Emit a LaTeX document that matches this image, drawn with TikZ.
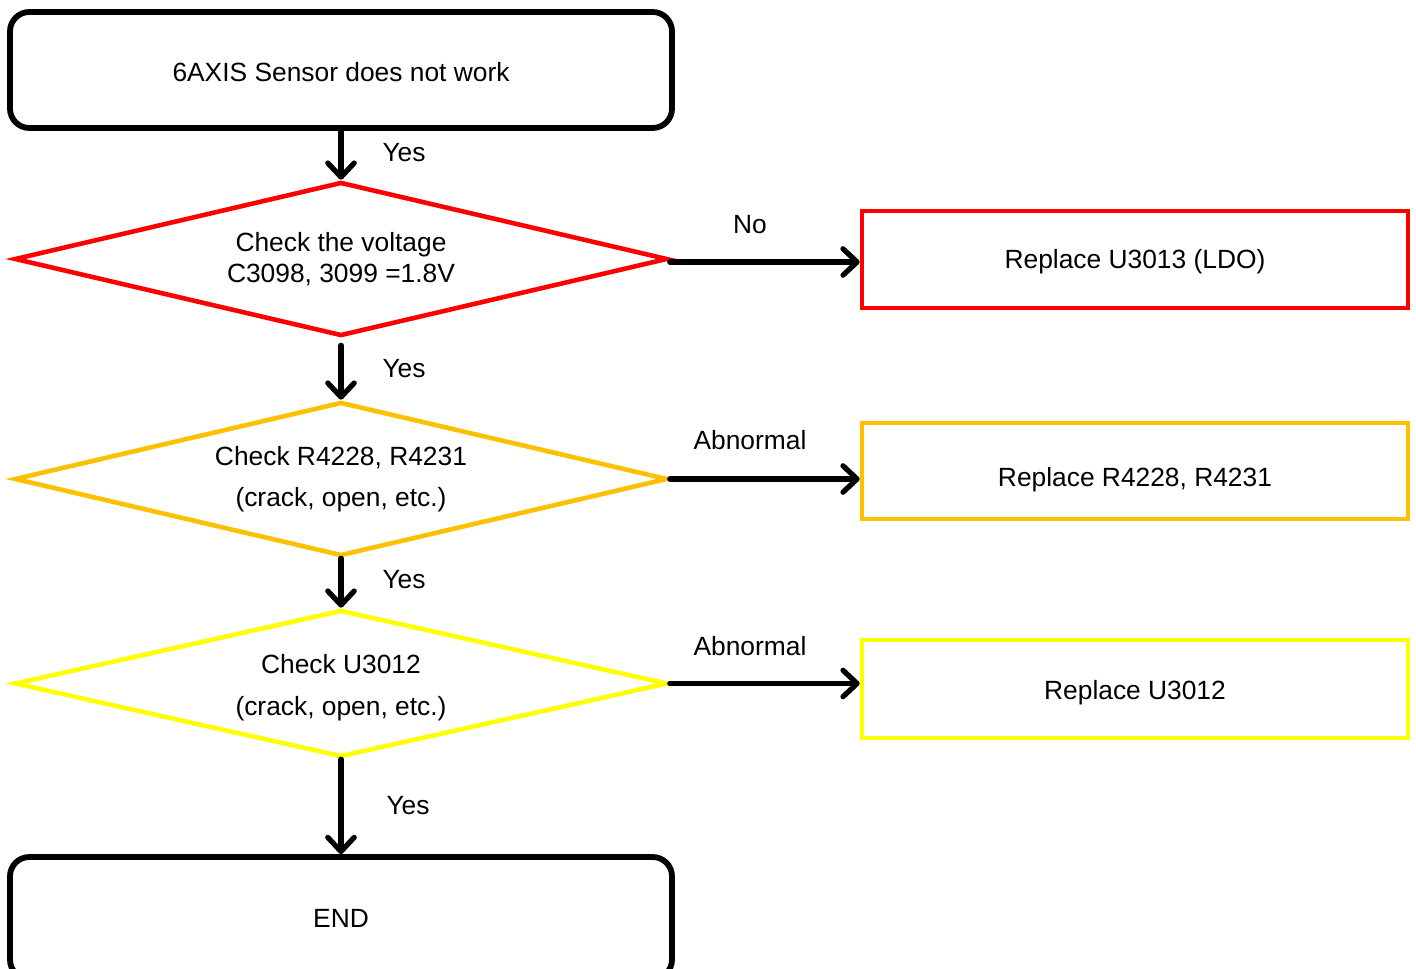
\documentclass[tikz,border=0pt]{standalone}
\usepackage{fontspec}
\setmainfont{Liberation Sans}
\usetikzlibrary{positioning, shapes.geometric, arrows.meta}

\begin{document}
\begin{tikzpicture}[
    txt/.style       = {font=\fontsize{15pt}{17.6pt}\selectfont},
    block/.style     = {rectangle, draw=black, line width=3.3pt, rounded corners=11pt,
                        minimum width=13.24cm, txt, align=center},
    check/.style     = {diamond, line width=2.6pt, aspect=4.24, inner sep=0pt,
                        minimum width=13.06cm, txt, align=center},
    fix/.style       = {rectangle, line width=2.6pt, minimum width=10.92cm,
                        text depth=3.2pt, txt, align=center},
    conn/.style      = {line width=3pt, draw=black, line cap=round,
                        -{Straight Barb[length=8pt, width=15pt, round]}},
    lbl/.style       = {txt},
]

%% ============================================================
%% CANVAS
%% ============================================================
\useasboundingbox (0,0) rectangle (28.32,-19.38);
\clip (0,0) rectangle (28.32,-19.38);

%% ============================================================
%% LAYOUT (main column left, repairs right)
%% ============================================================

\node[block, minimum height=2.32cm, text height=13pt]
                  (start) at (6.82,-1.40)  {6AXIS Sensor does not work};

\node[check, draw=red, minimum height=3.08cm]
                  (volt)  at (6.82,-5.18)  {Check the voltage\\C3098, 3099 =1.8V};
\node[check, draw={rgb,255:red,255;green,192;blue,0}, minimum height=3.08cm]
                  (res)   at (6.82,-9.58)  {Check R4228, R4231\\[6pt](crack, open, etc.)};
\node[check, draw={rgb,255:red,255;green,255;blue,0}, minimum height=2.94cm]
                  (chip)  at (6.82,-13.67) {\rule{0pt}{15.5pt}Check U3012\\[6pt](crack, open, etc.)};

\node[block, minimum height=2.44cm] (done) at (6.82,-18.36) {END};

%% repair boxes
\node[fix, draw=red, minimum height=1.94cm, text height=13.8pt]
                  (ldo)   at (22.70,-5.19)  {Replace U3013 (LDO)};
\node[fix, draw={rgb,255:red,255;green,192;blue,0}, minimum height=1.92cm, text height=21pt]
                  (resfix) at (22.70,-9.42) {Replace R4228, R4231};
\node[fix, draw={rgb,255:red,255;green,255;blue,0}, minimum height=1.96cm, text height=15.5pt]
                  (chipfix) at (22.70,-13.78) {Replace U3012};

%% ============================================================
%% CONNECTIONS
%% ============================================================

%% main path
\draw[conn] (start.south) -- (volt.north);
\draw[conn] ([yshift=-0.14cm]volt.south) -- (res.north);
\draw[conn] (res.south) -- (chip.north);
\draw[conn] (chip.south) -- (done.north);

%% side exits
\draw[conn] ([yshift=-0.06cm]volt.east) -- ([yshift=-0.06cm]volt.east -| ldo.west);
\draw[conn] (res.east) -- (res.east -| resfix.west);
\draw[conn] (chip.east) -- (chip.east -| chipfix.west);

%% ============================================================
%% ANNOTATIONS
%% ============================================================

\node[lbl] (y1) at (8.08,-3.06)  {Yes};
\node[lbl] (y2) at (8.08,-7.38)  {Yes};
\node[lbl] (y3) at (8.08,-11.60) {Yes};
\node[lbl] (y4) at (8.16,-16.12) {Yes};

\node[lbl] (no)  at (15.00,-4.50)  {No};
\node[lbl] (ab1) at (15.00,-8.80)  {Abnormal};
\node[lbl] (ab2) at (15.00,-12.92) {Abnormal};

\end{tikzpicture}
\end{document}
